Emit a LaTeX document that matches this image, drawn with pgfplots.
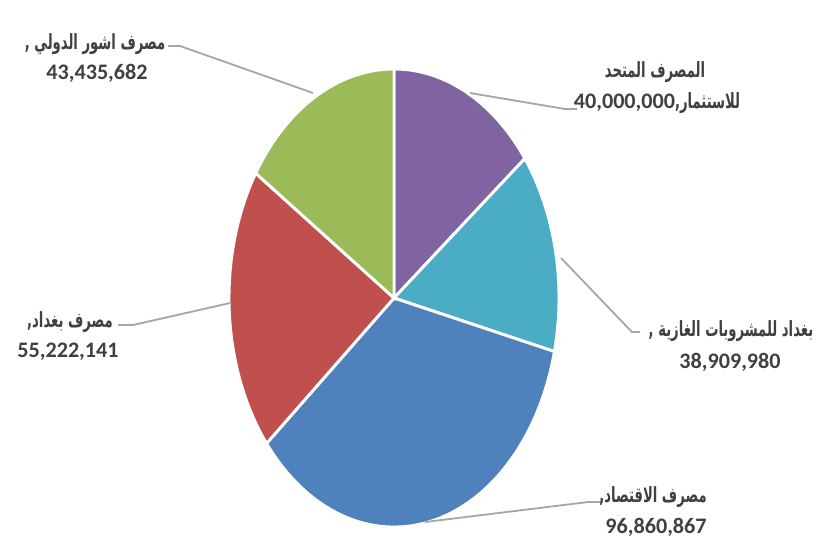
\documentclass[border=0pt]{standalone}
\usepackage{pgfplots}
\pgfplotsset{compat=1.18}
\usepackage{fontspec}
\setmainfont{Carlito}
\newfontfamily\arabicfont[Script=Arabic,FakeStretch=0.63]{DejaVu Sans}
\newfontfamily\numfont{Carlito}
\TeXXeTstate=1
\definecolor{cPurple}{HTML}{8064A2}
\definecolor{cCyan}{HTML}{4BACC6}
\definecolor{cBlue}{HTML}{4F81BD}
\definecolor{cRed}{HTML}{C0504D}
\definecolor{cGreen}{HTML}{9BBB59}
\definecolor{cText}{HTML}{404040}
\definecolor{cLine}{HTML}{A6A6A6}
% values in millions
\def\vA{40.000000}  % المصرف المتحد للاستثمار
\def\vB{38.909980}  % بغداد للمشروبات الغازية
\def\vC{96.860867}  % مصرف الاقتصاد
\def\vD{55.222141}  % مصرف بغداد
\def\vE{43.435682}  % مصرف اشور الدولي
\pgfmathsetmacro{\tot}{\vA+\vB+\vC+\vD+\vE}
\pgfmathsetmacro{\kk}{360/\tot}
\pgfmathsetmacro{\aA}{90-\kk*\vA}
\pgfmathsetmacro{\aB}{\aA-\kk*\vB}
\pgfmathsetmacro{\aC}{\aB-\kk*\vC}
\pgfmathsetmacro{\aD}{\aC-\kk*\vD}
\def\cx{394}\def\cy{239}\def\rx{165}\def\ry{229}
\tikzset{arab/.style={font=\arabicfont\bfseries\fontsize{8.6}{10}\selectfont, text=cText, inner sep=0pt},
 num/.style={font=\numfont\bfseries\fontsize{9.1}{11}\selectfont, text=cText, inner sep=0pt},
 lead/.style={draw=cLine, line width=0.75pt}}
\begin{document}
\begin{tikzpicture}
\begin{axis}[width=12cm,height=7.755cm,scale only axis,
  xmin=0,xmax=831,ymin=0,ymax=537,hide axis,clip=false]
\path (rel axis cs:0,0) rectangle (rel axis cs:1,1);
\addplot[fill=cPurple, draw=white, line width=1.2pt, domain=\aA:90, samples=60, variable=\t]
  ({\cx+\rx*cos(\t)},{\cy+\ry*sin(\t)}) -- (axis cs:\cx,\cy) -- cycle;
\addplot[fill=cCyan, draw=white, line width=1.2pt, domain=\aB:\aA, samples=60, variable=\t]
  ({\cx+\rx*cos(\t)},{\cy+\ry*sin(\t)}) -- (axis cs:\cx,\cy) -- cycle;
\addplot[fill=cBlue, draw=white, line width=1.2pt, domain=\aC:\aB, samples=120, variable=\t]
  ({\cx+\rx*cos(\t)},{\cy+\ry*sin(\t)}) -- (axis cs:\cx,\cy) -- cycle;
\addplot[fill=cRed, draw=white, line width=1.2pt, domain=\aD:\aC, samples=80, variable=\t]
  ({\cx+\rx*cos(\t)},{\cy+\ry*sin(\t)}) -- (axis cs:\cx,\cy) -- cycle;
\addplot[fill=cGreen, draw=white, line width=1.2pt, domain=-270:\aD, samples=60, variable=\t]
  ({\cx+\rx*cos(\t)},{\cy+\ry*sin(\t)}) -- (axis cs:\cx,\cy) -- cycle;
% leader lines
\draw[lead] (axis cs:168,491) -- (axis cs:180,491) -- (axis cs:313,444);
\draw[lead] (axis cs:470,444) -- (axis cs:565,428) -- (axis cs:577,428);
\draw[lead] (axis cs:561,279) -- (axis cs:632,205) -- (axis cs:640,205);
\draw[lead] (axis cs:118,212) -- (axis cs:133,212) -- (axis cs:230,234);
\draw[lead] (axis cs:425,15) -- (axis cs:588,35) -- (axis cs:602,35);
% labels
\node[arab] at (axis cs:95,493) {\beginR مصرف اشور الدولي ,\endR};
\node[num] at (axis cs:97,464) {43,435,682};
\node[arab] at (axis cs:655,465) {\beginR المصرف المتحد\endR};
\node[arab] at (axis cs:657,434) {\beginR للاستثمار,\beginL{\numfont\fontsize{9.1}{11}\selectfont 40,000,000}\endL\endR};
\node[arab] at (axis cs:731,206) {\beginR بغداد للمشروبات الغازية ,\endR};
\node[num] at (axis cs:730,175) {38,909,980};
\node[arab] at (axis cs:70,215) {\beginR مصرف بغداد,\endR};
\node[num] at (axis cs:68,185) {55,222,141};
\node[arab] at (axis cs:653,40) {\beginR مصرف الاقتصاد,\endR};
\node[num] at (axis cs:656,10) {96,860,867};
\end{axis}
\end{tikzpicture}
\end{document}
